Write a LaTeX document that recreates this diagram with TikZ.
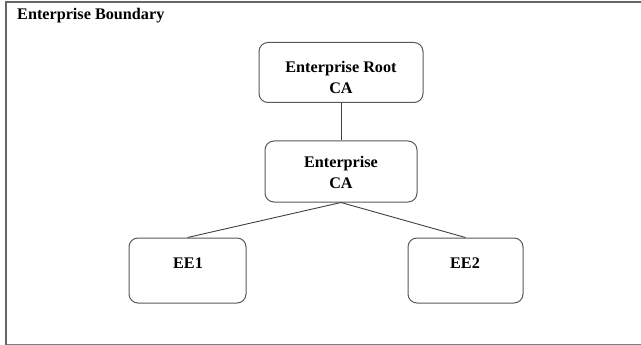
\documentclass[tikz,border=0pt]{standalone}
\usepackage{fontspec}
\setmainfont{Liberation Serif}
\begin{document}
\begin{tikzpicture}[x=1pt,y=-1pt,
  cabox/.style={draw=black!65,line width=1pt,rounded corners=9pt,fill=white,inner sep=0pt},
  lbl/.style={font=\fontsize{16.2}{21.5}\selectfont\bfseries,align=center,inner sep=0pt},
  link/.style={draw=black!75,line width=0.9pt}]
\useasboundingbox (0,0) rectangle (641,345);
% enterprise boundary (open on the right)
\draw[black!50,line width=1pt] (5,344) -- (641,344);
\draw[black!60,line width=2pt] (6,344.5) -- (6,2) -- (641,2);
\node[lbl,anchor=west] (title) at (17,16) {Enterprise Boundary};
% boxes
\node[cabox,minimum width=164pt,minimum height=60pt] (root) at (341,72.5) {};
\node[cabox,minimum width=152pt,minimum height=61pt] (ca) at (341,171.5) {};
\node[cabox,minimum width=117pt,minimum height=65pt] (ee1) at (187.5,270.5) {};
\node[cabox,minimum width=115pt,minimum height=65pt] (ee2) at (465.5,270.5) {};
% texts
\node[lbl] (roottxt) at (341,77.5) {Enterprise Root\\CA};
\node[lbl] (catxt) at (341,172.5) {Enterprise\\CA};
\node[lbl] (ee1txt) at (188,263) {EE1};
\node[lbl] (ee2txt) at (465,263) {EE2};
% connectors
\draw[link] (root.south) -- (ca.north);
\draw[link] (ca.south) -- (ee1.north);
\draw[link] (ca.south) -- (ee2.north);
\end{tikzpicture}
\end{document}
